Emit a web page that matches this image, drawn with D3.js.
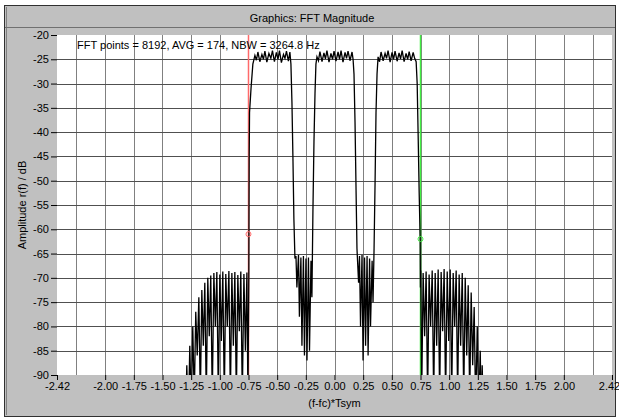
<!DOCTYPE html>
<html>
<head>
<meta charset="utf-8">
<script src="https://cdn.jsdelivr.net/npm/d3@7"></script>
<style>
  body { margin: 0; background: #fff; }
  svg { display: block; font-family: "Liberation Sans", Arial, sans-serif; font-size: 11px; }
</style>
</head>
<body>
<svg id="chart" width="619" height="420"></svg>
<script>
// ----------------------
// data
// ----------------------
const xTicks = [-2.42, -2.00, -1.75, -1.50, -1.25, -1.00, -0.75, -0.50, -0.25, 0.00,
                0.25, 0.50, 0.75, 1.00, 1.25, 1.50, 1.75, 2.00, 2.42];
const xGrid = [-2.25, -2.00, -1.75, -1.50, -1.25, -1.00, -0.75, -0.50, -0.25, 0.00,
               0.25, 0.50, 0.75, 1.00, 1.25, 1.50, 1.75, 2.00, 2.25];
const yTicks = [-20, -25, -30, -35, -40, -45, -50, -55, -60, -65, -70, -75, -80, -85, -90];

// [f, dB] pairs
const leftSkirt = [
  [-1.300, -100], [-1.288, -88], [-1.275, -100], [-1.262, -84], [-1.249, -97],
  [-1.236, -80], [-1.223, -95], [-1.210, -77], [-1.197, -86], [-1.183, -74],
  [-1.170, -95], [-1.157, -72.5], [-1.144, -84], [-1.131, -71], [-1.118, -95],
  [-1.105, -70], [-1.092, -82], [-1.079, -69.5], [-1.066, -95], [-1.052, -69],
  [-1.039, -80], [-1.026, -68.8], [-1.013, -95], [-1.000, -69.3], [-0.987, -83],
  [-0.974, -68.7], [-0.961, -95], [-0.948, -69.2], [-0.935, -80], [-0.921, -68.6],
  [-0.908, -95], [-0.895, -69], [-0.882, -84], [-0.869, -68.8], [-0.856, -95],
  [-0.843, -69.4], [-0.830, -81], [-0.817, -68.7], [-0.804, -95], [-0.790, -69.2],
  [-0.777, -85], [-0.764, -68.9], [-0.755, -95], [-0.747, -69.5]
];
const channel1 = [
  [-0.746, -61], [-0.744, -45], [-0.741, -36], [-0.728, -31], [-0.712, -26],
  [-0.694, -24.2], [-0.681, -25.2], [-0.668, -23.5], [-0.651, -25.5], [-0.633, -24],
  [-0.620, -25], [-0.607, -23.3], [-0.590, -25.6], [-0.572, -23.8], [-0.555, -24.8],
  [-0.541, -23.2], [-0.524, -25.5], [-0.507, -23.6], [-0.493, -25], [-0.480, -23.2],
  [-0.463, -25.7], [-0.445, -24], [-0.432, -24.8], [-0.419, -23.3], [-0.402, -25.4],
  [-0.389, -23.5], [-0.380, -26], [-0.371, -34], [-0.362, -46], [-0.354, -58], [-0.345, -66]
];
const gap1 = [
  [-0.336, -65.5], [-0.328, -72], [-0.314, -65.3], [-0.306, -78], [-0.293, -65.8],
  [-0.284, -84], [-0.271, -65.5], [-0.262, -86], [-0.249, -66], [-0.240, -87],
  [-0.227, -65.8], [-0.218, -85], [-0.205, -66.5], [-0.197, -74]
];
const channel2 = [
  [-0.188, -56], [-0.179, -42], [-0.170, -32], [-0.162, -26], [-0.153, -24.5],
  [-0.140, -25.3], [-0.127, -23.4], [-0.109, -25.5], [-0.092, -23.7], [-0.079, -24.9],
  [-0.066, -23.2], [-0.048, -25.6], [-0.031, -23.8], [-0.017, -25], [-0.004, -23.3],
  [0.013, -25.4], [0.031, -23.5], [0.044, -25], [0.057, -23.2], [0.074, -25.6],
  [0.092, -23.6], [0.105, -24.8], [0.118, -23.3], [0.135, -25.3], [0.153, -23.5],
  [0.162, -25], [0.170, -28], [0.179, -38], [0.188, -52], [0.196, -64]
];
const gap2 = [
  [0.201, -66.5], [0.210, -71], [0.218, -65.5], [0.227, -80], [0.240, -65.3],
  [0.249, -87], [0.262, -65.8], [0.271, -84], [0.284, -65.5], [0.293, -86],
  [0.306, -66], [0.314, -80], [0.328, -66.5], [0.336, -75]
];
const channel3 = [
  [0.345, -64], [0.354, -50], [0.362, -36], [0.371, -28], [0.380, -24.5],
  [0.393, -25.5], [0.406, -23.5], [0.424, -25.3], [0.441, -23.8], [0.454, -24.8],
  [0.467, -23.2], [0.485, -25.6], [0.502, -23.6], [0.515, -25], [0.528, -23.3],
  [0.546, -25.4], [0.563, -23.7], [0.576, -24.9], [0.590, -23.2], [0.607, -25.5],
  [0.624, -23.8], [0.638, -25], [0.651, -23.4], [0.668, -25.3], [0.686, -23.6],
  [0.699, -24.8], [0.712, -25.5], [0.721, -30], [0.729, -40], [0.738, -52], [0.747, -62]
];
const rightSkirt = [
  [0.749, -72], [0.752, -68.5], [0.760, -95], [0.773, -69], [0.786, -82],
  [0.799, -68.7], [0.812, -95], [0.825, -69.3], [0.838, -80], [0.852, -68.5],
  [0.865, -95], [0.878, -69], [0.891, -84], [0.904, -68.3], [0.917, -95],
  [0.930, -68.8], [0.943, -81], [0.956, -68.2], [0.969, -95], [0.983, -68.7],
  [0.996, -83], [1.009, -68.3], [1.022, -95], [1.035, -69], [1.048, -80],
  [1.061, -68.5], [1.074, -95], [1.087, -69.3], [1.100, -84], [1.114, -69],
  [1.127, -95], [1.140, -70], [1.153, -86], [1.166, -71.5], [1.179, -95],
  [1.192, -73], [1.205, -88], [1.218, -76], [1.231, -97], [1.245, -80],
  [1.258, -97], [1.271, -85], [1.280, -99], [1.288, -88], [1.300, -100]
];

const markerF = [-0.75, 0.75];
const markerDb = [-61, -62];
const markerColors = ["#ff6a6a", "#44ee44"];

// ----------------------
// layout
// ----------------------
const svg = d3.select("#chart");
const plot = { left: 57, right: 612, top: 35, bottom: 375 };

// window frame
svg.append("rect").attr("x", 4.5).attr("y", 5.5).attr("width", 611).attr("height", 411)
  .attr("fill", "#c0c0c0").attr("stroke", "#303030");
svg.append("line").attr("x1", 6.5).attr("x2", 6.5).attr("y1", 7).attr("y2", 415)
  .attr("stroke", "#808080");
svg.append("line").attr("x1", 5).attr("x2", 615).attr("y1", 27.5).attr("y2", 27.5)
  .attr("stroke", "#707070");
svg.append("text").attr("x", 312).attr("y", 22).attr("text-anchor", "middle")
  .text("Graphics: FFT Magnitude");

const x = d3.scaleLinear().domain([-2.42, 2.42]).range([plot.left, plot.right]);
const y = d3.scaleLinear().domain([-90, -20]).range([plot.bottom, plot.top]);

svg.append("rect")
  .attr("x", plot.left).attr("y", plot.top)
  .attr("width", plot.right - plot.left).attr("height", plot.bottom - plot.top)
  .attr("fill", "#fff");

svg.append("clipPath").attr("id", "clip").append("rect")
  .attr("x", plot.left).attr("y", plot.top)
  .attr("width", plot.right - plot.left).attr("height", plot.bottom - plot.top);

// grid
svg.append("g").selectAll("line").data(xGrid).join("line")
  .attr("x1", d => Math.round(x(d)) + 0.5).attr("x2", d => Math.round(x(d)) + 0.5)
  .attr("y1", plot.top).attr("y2", plot.bottom)
  .attr("stroke", "#808080");
svg.append("g").selectAll("line").data(yTicks.slice(1, -1)).join("line")
  .attr("y1", d => Math.round(y(d)) + 0.5).attr("y2", d => Math.round(y(d)) + 0.5)
  .attr("x1", plot.left).attr("x2", plot.right)
  .attr("stroke", "#505050");

// axes
const yAxis = svg.append("g")
  .attr("transform", `translate(${plot.left},0)`)
  .call(d3.axisLeft(y).tickValues(yTicks).tickSize(6).tickPadding(2).tickFormat(d => String(d)));
const xAxis = svg.append("g")
  .attr("transform", `translate(0,${plot.bottom})`)
  .call(d3.axisBottom(x).tickValues(xTicks).tickSize(5).tickPadding(2).tickFormat(d => d.toFixed(2)));
[xAxis, yAxis].forEach(a => {
  a.select(".domain").remove();
  a.selectAll("text").attr("fill", "#000").style("font-size", "11px")
    .style("font-family", "\"Liberation Sans\", Arial, sans-serif");
  a.selectAll("line").attr("stroke", "#000");
});
// keep the last label inside the window
xAxis.selectAll(".tick").filter(d => d === 2.42).select("text").attr("dx", -3);

svg.append("text").attr("x", x(0)).attr("y", 407).attr("text-anchor", "middle")
  .text("(f-fc)*Tsym");
svg.append("text").attr("transform", `translate(26,${(plot.top + plot.bottom) / 2}) rotate(-90)`)
  .attr("text-anchor", "middle").text("Amplitude r(f) / dB");

// markers (vertical lines)
const clipped = svg.append("g").attr("clip-path", "url(#clip)");
clipped.selectAll("line.marker").data(markerF).join("line")
  .attr("class", "marker")
  .attr("x1", d => x(d)).attr("x2", d => x(d))
  .attr("y1", plot.top).attr("y2", plot.bottom)
  .attr("stroke", (d, i) => markerColors[i]).attr("stroke-width", 1.5);

// trace
const trace = [].concat(leftSkirt, channel1, gap1, channel2, gap2, channel3, rightSkirt);
const line = d3.line().x(d => x(d[0])).y(d => y(d[1]));
clipped.append("path")
  .datum(trace)
  .attr("d", line)
  .attr("fill", "none")
  .attr("stroke", "#000")
  .attr("stroke-width", 1.3)
  .attr("stroke-linejoin", "miter");

// marker circles
clipped.selectAll("circle").data(markerF).join("circle")
  .attr("cx", d => x(d)).attr("cy", (d, i) => y(markerDb[i])).attr("r", 2.5)
  .attr("fill", "none").attr("stroke", (d, i) => markerColors[i]);

svg.append("text").attr("x", 77).attr("y", 49)
  .text("FFT points = 8192, AVG = 174, NBW = 3264.8 Hz");
</script>
</body>
</html>
